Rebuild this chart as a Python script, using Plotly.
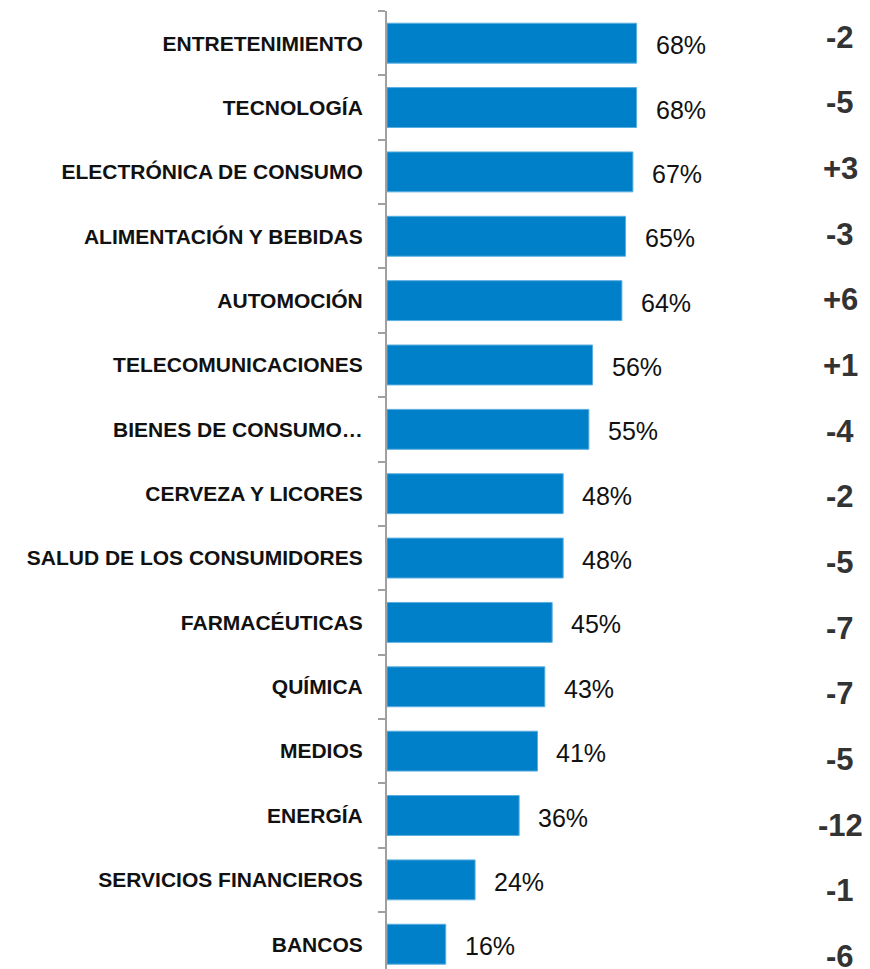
import plotly.graph_objects as go

categories = ["ENTRETENIMIENTO", "TECNOLOGÍA", "ELECTRÓNICA DE CONSUMO", "ALIMENTACIÓN Y BEBIDAS",
              "AUTOMOCIÓN", "TELECOMUNICACIONES", "BIENES DE CONSUMO…", "CERVEZA Y LICORES",
              "SALUD DE LOS CONSUMIDORES", "FARMACÉUTICAS", "QUÍMICA", "MEDIOS", "ENERGÍA",
              "SERVICIOS FINANCIEROS", "BANCOS"]
values = [68, 68, 67, 65, 64, 56, 55, 48, 48, 45, 43, 41, 36, 24, 16]
changes = ["-2", "-5", "+3", "-3", "+6", "+1", "-4", "-2", "-5", "-7", "-7", "-5", "-12", "-1", "-6"]

SANS = "Liberation Sans, Arial, sans-serif"

fig = go.Figure()
fig.add_trace(go.Bar(
    x=values, y=categories, orientation="h",
    marker=dict(color="#0080C8", line=dict(color="#5AAEE0", width=1)),
    width=0.62, hoverinfo="skip",
))

annotations = []
for c, v in zip(categories, values):
    annotations.append(dict(x=v, y=c, xref="x", yref="y", text=f"{v}%", showarrow=False,
                            xanchor="left", xshift=17, yshift=-2,
                            font=dict(family=SANS, size=25, color="#111111")))
for i, (c, ch) in enumerate(zip(categories, changes)):
    annotations.append(dict(x=0.938, xref="paper", y=c, yref="y", text=f"<b>{ch}</b>", showarrow=False,
                            xanchor="center", yshift=6 - i * 1.3,
                            font=dict(family=SANS, size=31, color="#333333")))

fig.update_layout(
    width=862, height=961,
    margin=dict(l=379, r=0, t=3, b=0),
    paper_bgcolor="white", plot_bgcolor="white",
    showlegend=False,
    annotations=annotations,
    xaxis=dict(range=[0, 131.6], visible=False, fixedrange=True),
    yaxis=dict(
        categoryorder="array", categoryarray=categories,
        range=[14.385, -0.5],
        showline=True, linecolor="#A0A0A0", linewidth=2,
        ticks="outside", ticklen=7, tickcolor="#A0A0A0", tickwidth=2,
        tickson="boundaries", ticklabelstandoff=18,
        tickfont=dict(family=SANS, size=21, color="#111111", weight="bold"),
        showgrid=False, zeroline=False,
    ),
)

fig.write_html("out.html")
